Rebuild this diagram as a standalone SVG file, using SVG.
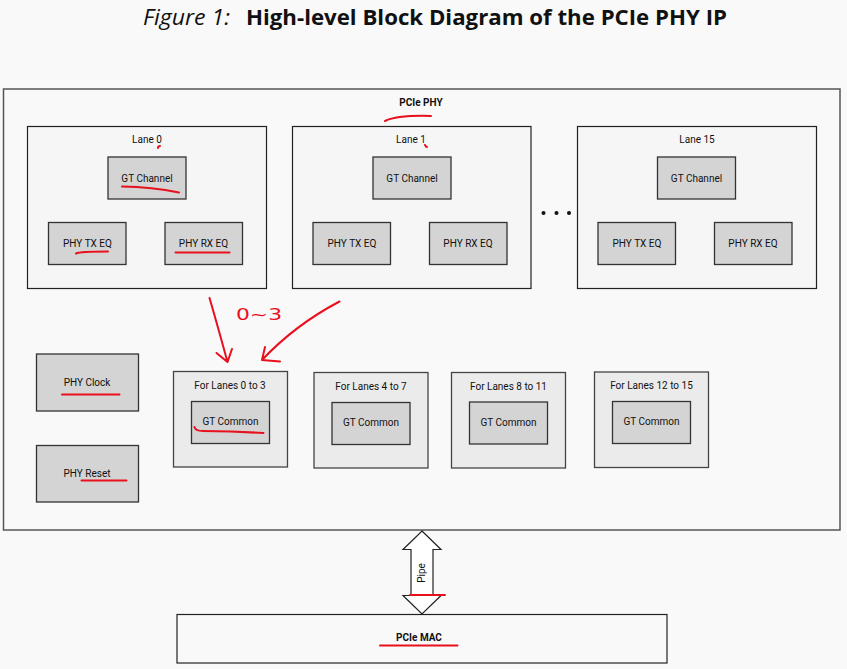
<svg xmlns="http://www.w3.org/2000/svg" width="847" height="669" viewBox="0 0 847 669">
<style>
  .t { font-family: Roboto, "Liberation Sans", Arial, sans-serif; font-size: 10px; fill: #111; text-anchor: middle; }
  .b { font-weight: bold; }
  .blk { fill: #d4d4d4; stroke: #333; stroke-width: 1.3; }
  .lane { fill: #f6f6f6; stroke: #222; stroke-width: 1.2; }
  .grp { fill: #ebebeb; stroke: #444; stroke-width: 1.3; }
  .red { fill: none; stroke: #e8101c; stroke-width: 2; stroke-linecap: round; stroke-linejoin: round; }
</style>
<rect width="847" height="669" fill="#f9f9f9"/>
<g id="title">
  <text x="143" y="25" font-family="'Open Sans', 'Noto Sans', sans-serif" font-size="21" font-style="italic" fill="#111" textLength="87" lengthAdjust="spacingAndGlyphs">Figure 1:</text>
  <text x="246" y="25" font-family="'Open Sans', 'Noto Sans', sans-serif" font-size="21" font-weight="bold" fill="#111" textLength="481" lengthAdjust="spacingAndGlyphs">High-level Block Diagram of the PCIe PHY IP</text>
</g>
<g id="pcie-phy">
  <rect x="3.5" y="89" width="836.5" height="441" fill="#f9f9f9" stroke="#555" stroke-width="1.5"/>
  <text class="t b" x="421" y="106" font-size="9.5">PCIe PHY</text>
</g>
<g id="lane0">
  <rect class="lane" x="27.5" y="126.5" width="239" height="162"/>
  <text class="t" x="147" y="143">Lane 0</text>
  <g id="lane0-gt"><rect class="blk" x="108" y="157" width="78" height="42"/><text class="t" x="147" y="181.5">GT Channel</text></g>
  <g id="lane0-tx"><rect class="blk" x="48.5" y="222.5" width="77.5" height="42"/><text class="t" x="87.5" y="247">PHY TX EQ</text></g>
  <g id="lane0-rx"><rect class="blk" x="165" y="222.5" width="77.5" height="42"/><text class="t" x="203.5" y="247">PHY RX EQ</text></g>
</g>
<g id="lane1">
  <rect class="lane" x="292.5" y="126.5" width="238.5" height="162"/>
  <text class="t" x="411" y="143">Lane 1</text>
  <g id="lane1-gt"><rect class="blk" x="373" y="157" width="78" height="42"/><text class="t" x="412" y="181.5">GT Channel</text></g>
  <g id="lane1-tx"><rect class="blk" x="313" y="222.5" width="77.5" height="42"/><text class="t" x="352" y="247">PHY TX EQ</text></g>
  <g id="lane1-rx"><rect class="blk" x="429.5" y="222.5" width="77.5" height="42"/><text class="t" x="468" y="247">PHY RX EQ</text></g>
</g>
<g id="dots" fill="#111">
  <circle cx="543.5" cy="213" r="2"/><circle cx="556.5" cy="213" r="2"/><circle cx="569" cy="213" r="2"/>
</g>
<g id="lane15">
  <rect class="lane" x="577.5" y="126.5" width="239" height="162"/>
  <text class="t" x="697" y="143">Lane 15</text>
  <g id="lane15-gt"><rect class="blk" x="657.5" y="157" width="78" height="42"/><text class="t" x="696.5" y="181.5">GT Channel</text></g>
  <g id="lane15-tx"><rect class="blk" x="598" y="222.5" width="77.5" height="42"/><text class="t" x="637" y="247">PHY TX EQ</text></g>
  <g id="lane15-rx"><rect class="blk" x="714.5" y="222.5" width="77.5" height="42"/><text class="t" x="753" y="247">PHY RX EQ</text></g>
</g>
<g id="phy-clock"><rect class="blk" x="36.5" y="354" width="102" height="57"/><text class="t" x="87" y="386">PHY Clock</text></g>
<g id="phy-reset"><rect class="blk" x="36.5" y="445.5" width="102" height="56.5"/><text class="t" x="87" y="477">PHY Reset</text></g>
<g id="common0">
  <rect class="grp" x="173.5" y="371.5" width="114" height="95.5"/>
  <text class="t" x="230" y="389">For Lanes 0 to 3</text>
  <rect class="blk" x="191.5" y="401.5" width="78" height="42"/>
  <text class="t" x="230.5" y="425">GT Common</text>
</g>
<g id="common1">
  <rect class="grp" x="314" y="372.5" width="114" height="95.5"/>
  <text class="t" x="371" y="390">For Lanes 4 to 7</text>
  <rect class="blk" x="332" y="402.5" width="78" height="42"/>
  <text class="t" x="371" y="426">GT Common</text>
</g>
<g id="common2">
  <rect class="grp" x="451.5" y="372.5" width="114" height="95.5"/>
  <text class="t" x="508.5" y="389.5">For Lanes 8 to 11</text>
  <rect class="blk" x="469.5" y="402" width="78" height="42"/>
  <text class="t" x="508.5" y="425.5">GT Common</text>
</g>
<g id="common3">
  <rect class="grp" x="594.5" y="372" width="114" height="95.5"/>
  <text class="t" x="651.5" y="389">For Lanes 12 to 15</text>
  <rect class="blk" x="612.5" y="401.5" width="78" height="42"/>
  <text class="t" x="651.5" y="425">GT Common</text>
</g>
<g id="pcie-mac"><rect x="177" y="614.5" width="490" height="48.5" fill="#f9f9f9" stroke="#222" stroke-width="1.2"/><text class="t b" x="419" y="641">PCIe MAC</text></g>
<g id="connectors">
  <path d="M422,531 L441,549.5 L433,549.5 L433,595.5 L441,595.5 L422,614 L403,595.5 L411,595.5 L411,549.5 L403,549.5 Z" fill="#fff" stroke="#222" stroke-width="1.2"/>
  <text class="t" transform="translate(424.5,573) rotate(-90)">Pipe</text>
</g>
<g id="annotations">
  <path class="red" d="M385,121 Q398,115 431,116"/>
  <path class="red" d="M158,148 Q158,146 160,146" />
  <path class="red" d="M425,145 Q426,147 427,147" />
  <path class="red" d="M122,186.5 Q152,187 179,192.5"/>
  <path class="red" d="M76,253.5 Q80,251.5 108,251.5"/>
  <path class="red" d="M175.5,252.5 L229.5,252.5"/>
  <path class="red" d="M209.5,298 Q216,320 227.5,362 M216.5,353 L227.5,362 L232,349"/>
  <path class="red" d="M339.5,301.5 Q295,325 262,360 M265,347 L262,360 L280,361.5"/>
  <text x="236" y="320" font-family="'DejaVu Sans', sans-serif" font-size="16" fill="#e8101c" textLength="46" lengthAdjust="spacingAndGlyphs">0~3</text>
  <path class="red" d="M62,394.5 L119.5,394.5"/>
  <path class="red" d="M81.5,480.5 L126.5,480.5"/>
  <path class="red" d="M194.5,427 Q195,431 203,431 Q235,431.5 263.5,433"/>
  <path class="red" d="M410,595 L445,595"/>
  <path class="red" d="M380,645.5 L457.5,645.5"/>
</g>
</svg>
